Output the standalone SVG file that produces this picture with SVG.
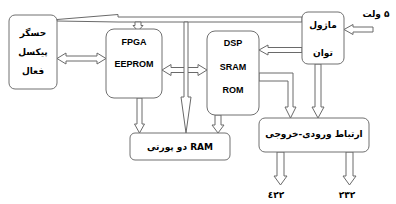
<svg xmlns="http://www.w3.org/2000/svg" width="396" height="204" viewBox="0 0 396 204">
<style>
.box{fill:#fff;stroke:#707070;stroke-width:1}
.ar{fill:#fff;stroke:#6a6a6a;stroke-width:1;stroke-linejoin:miter}
.ln{fill:none;stroke:#6a6a6a;stroke-width:1}
.en{font-family:"Liberation Sans",Arial,sans-serif;font-weight:bold;font-size:9px;fill:#000;text-anchor:middle}
.fa{font-family:"DejaVu Sans","Noto Sans",sans-serif;font-weight:bold;font-size:9px;fill:#000;text-anchor:middle}
</style>
<rect width="396" height="204" fill="#fff"/>
<g id="connectors">
<polygon class="ar" points="57,19.5 118,14.5 118,17 302,17 302,22 118,22 57,21"/>
<polygon class="ar" points="135,22 135,25.5 133,25.5 138,31 143,25.5 141,25.5 141,22"/>
<polygon class="ar" points="57,58.5 66,53 66,56 97,56 97,53 106,58.5 97,64 97,61 66,61 66,64"/>
<polygon class="ar" points="162,70 171,64.5 171,67.5 198,67.5 198,64.5 207,70 198,75.5 198,72.5 171,72.5 171,75.5"/>
<polygon class="ar" points="184,22 184,97 181,97 186,133 191,97 188,97 188,22"/>
<polygon class="ar" points="137,98 137,124 134.5,124 139.5,133 144.5,124 142,124 142,98"/>
<polygon class="ar" points="215,115 215,125 212,125 218,133 224,125 221,125 221,115"/>
<polygon class="ar" points="259,73 293,73 293,107 296,107 290.5,118 285,107 288,107 288,81 259,81"/>
<polygon class="ar" points="315,64 315,107 312,107 318,118 324,107 321,107 321,64"/>
<polygon class="ar" points="277,152 277,176 274,176 280.5,185 287,176 284,176 284,152"/>
<polygon class="ar" points="346,152 346,176 343,176 349.5,185 356,176 353,176 353,152"/>
<polygon class="ar" points="344,29.5 353,24.5 353,27 373,27 373,32 353,32 353,34.5"/>
<polygon class="ar" points="259,50 268,45 268,47.5 302,47.5 302,52.5 268,52.5 268,55"/>
</g>
<g id="sensor">
<rect class="box" x="9" y="15" width="48" height="74" rx="6"/>
<text class="fa" x="33" y="36" direction="rtl">حسگر</text>
<text class="fa" x="33" y="55" direction="rtl">پیکسل</text>
<text class="fa" x="33" y="74" direction="rtl">فعال</text>
</g>
<g id="fpga">
<rect class="box" x="106" y="29" width="56" height="69" rx="8"/>
<text class="en" x="134" y="45">FPGA</text>
<text class="en" x="134" y="67">EEPROM</text>
</g>
<g id="dsp">
<rect class="box" x="207" y="31" width="52" height="84" rx="8"/>
<text class="en" x="233" y="46">DSP</text>
<text class="en" x="233" y="70">SRAM</text>
<text class="en" x="233" y="93">ROM</text>
</g>
<g id="power">
<rect class="box" x="302" y="12" width="42" height="52" rx="6"/>
<text class="fa" x="323" y="28" direction="rtl">ماژول</text>
<text class="fa" x="323" y="56" direction="rtl">توان</text>
</g>
<g id="ram">
<rect class="box" x="130" y="133" width="100" height="27" rx="5"/>
<text class="fa" x="180" y="150" direction="rtl">RAM دو پورتی</text>
</g>
<g id="io">
<rect class="box" x="259" y="118" width="110" height="34" rx="6"/>
<text class="fa" x="314" y="137" direction="rtl">ارتباط ورودی-خروجی</text>
</g>
<g id="labels">
<text class="fa" x="376" y="17" direction="rtl">۵ ولت</text>
<text class="fa" x="276" y="198">٤٢٢</text>
<text class="fa" x="347" y="198">٢٣٢</text>
</g>
</svg>
